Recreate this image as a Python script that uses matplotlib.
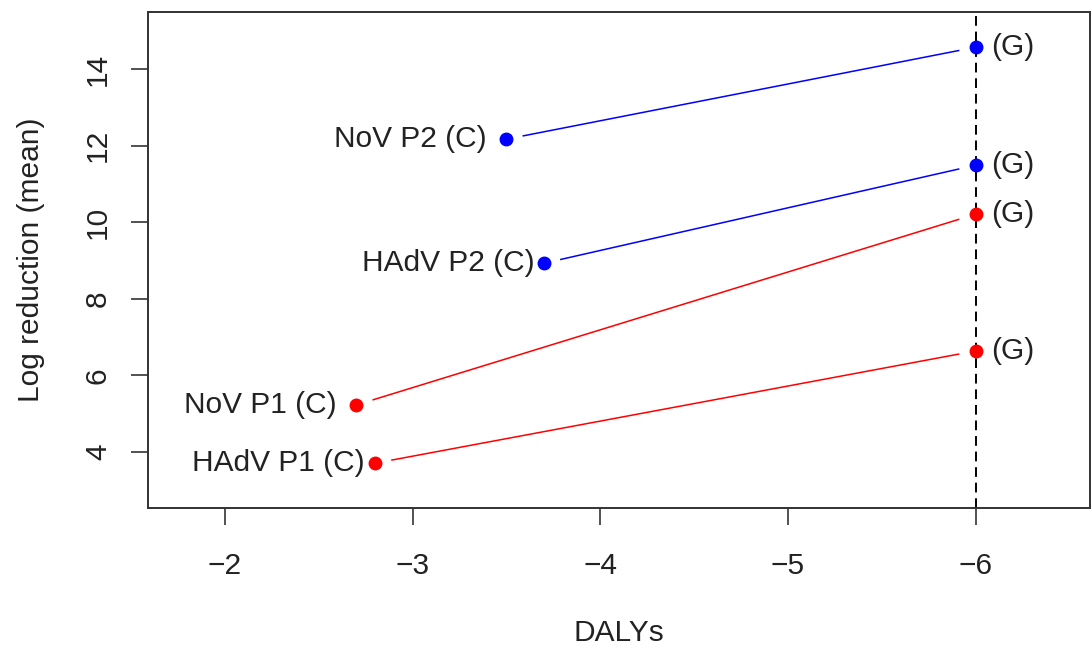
import matplotlib
matplotlib.use("Agg")
import matplotlib.pyplot as plt
import numpy as np

plt.rcParams['font.family'] = ['Liberation Sans', 'DejaVu Sans']

labels_c = ["NoV P2 (C)", "HAdV P2 (C)", "NoV P1 (C)", "HAdV P1 (C)"]
x_c = [-3.5, -3.7, -2.7, -2.8]
y_c = [12.17, 8.93, 5.23, 3.71]
x_g = [-6.0, -6.0, -6.0, -6.0]
y_g = [14.57, 11.49, 10.21, 6.64]
label_g = "(G)"
colors = ["blue", "blue", "red", "red"]
x_ticks = [-2, -3, -4, -5, -6]
y_ticks = [4, 6, 8, 10, 12, 14]

# style
label_offsets_px = [-20, -9, -20, -10]
gap = 0.09
fs = 21.5

fig = plt.figure(figsize=(10.92, 6.52), dpi=100)
ax = fig.add_axes([148/1092, 1-508/652, (1090-148)/1092, (508-12)/652])
ax.set_xlim(-1.59, -6.61)
ax.set_ylim(2.54, 15.49)

ax.axvline(-6, color="black", linestyle=(0, (5, 3)), linewidth=1.4, zorder=1)

for i in range(len(x_c)):
    x0, y0, x1, y1 = x_c[i], y_c[i], x_g[i], y_g[i]
    t0 = gap / abs(x1 - x0)
    t1 = 1 - gap / abs(x1 - x0)
    xs = [x0 + t0 * (x1 - x0), x0 + t1 * (x1 - x0)]
    ys = [y0 + t0 * (y1 - y0), y0 + t1 * (y1 - y0)]
    ax.plot(xs, ys, color=colors[i], linewidth=1.1, zorder=2)
    ax.plot([x0], [y0], 'o', color=colors[i], markersize=9, zorder=3)
    ax.plot([x1], [y1], 'o', color=colors[i], markersize=9, zorder=3)
    ax.annotate(labels_c[i], (x0, y0), xytext=(label_offsets_px[i] * 0.72, 0),
                textcoords="offset points", ha="right", va="center",
                fontsize=fs, color="#222222")
    ax.annotate(label_g, (x1, y1), xytext=(11, 0), textcoords="offset points",
                ha="left", va="center", fontsize=fs, color="#222222")

ax.set_xticks(x_ticks)
ax.set_xticklabels([f"\u2212{abs(v)}" for v in x_ticks])
ax.set_yticks(y_ticks)
ax.set_yticklabels([str(v) for v in y_ticks], rotation=90, va="center")
ax.tick_params(axis='both', length=12, width=1.1, labelsize=fs, colors="#222222")
ax.tick_params(axis='x', pad=20)
ax.tick_params(axis='y', pad=14)
for s in ax.spines.values():
    s.set_linewidth(1.4)
    s.set_color("#333333")

ax.set_xlabel("DALYs", fontsize=fs, labelpad=28, color="#222222")
ax.set_ylabel("Log reduction (mean)", fontsize=fs, labelpad=28, color="#222222")

fig.savefig("out.png", dpi=100)
